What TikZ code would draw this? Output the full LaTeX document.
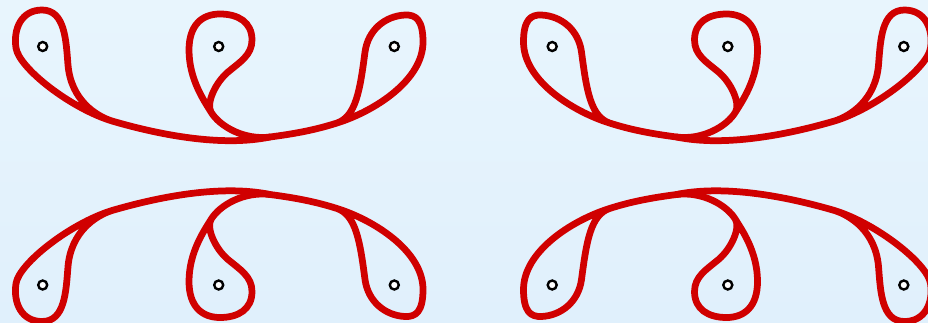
\documentclass[tikz,border=0pt]{standalone}
\usepackage{xcolor}
\usepackage{tikz}

\definecolor{bgtop}{RGB}{232,245,253}
\definecolor{bgbottom}{RGB}{224,240,252}
\definecolor{loopred}{RGB}{208,0,0}

\tikzset{
  lasso/.pic={
    % left petal, lower arc, right petal
    \draw[strand] (112,121) .. controls (96,116) and (71,100) .. (68,65)
      .. controls (66,40) and (65,10) .. (42,10)
      .. controls (22,10) and (13,28) .. (16,48)
      .. controls (19,68) and (70,108) .. (112,121)
      .. controls (160,135) and (222,147) .. (270,137)
      .. controls (295,133.7) and (315,130) .. (337,123)
      .. controls (375,111) and (423,80) .. (423,42)
      .. controls (423,20) and (416,14.5) .. (405,15)
      .. controls (385,16) and (368,30) .. (365,52)
      .. controls (360,90) and (356,116.5) .. (337,123);
    % middle petal
    \draw[strand] (270,137) .. controls (245,140.3) and (220,127) .. (211,112)
      .. controls (205,102) and (189,80) .. (189,50)
      .. controls (189,25) and (202,14) .. (220,14)
      .. controls (238,14) and (252,22) .. (252,40)
      .. controls (252,55) and (240,62) .. (228,72)
      .. controls (215,83) and (206,103.7) .. (211,112);
    \node[puncture] (-p1) at (42.7,46.5) {};
    \node[puncture] (-p2) at (218.7,46.5) {};
    \node[puncture] (-p3) at (394.3,46.5) {};
  }
}

\begin{document}
\begin{tikzpicture}[
  x={(0.02cm,0)}, y={(0,-0.02cm)},
  strand/.style={draw=loopred, line width=0.135cm, line cap=round, line join=round},
  puncture/.style={circle, draw=black, fill=white, line width=0.048cm, inner sep=0pt, minimum size=0.18cm},
]
  \useasboundingbox (0,0) rectangle (928,322);
  \shade[top color=bgtop, bottom color=bgbottom] (0,0) rectangle (928,322);
  \clip (0,0) rectangle (928,322);

  \pic (tl) at (0,0) {lasso};
  \pic[xscale=-1] (tr) at (946.5,0) {lasso};
  \pic[yscale=-1] (bl) at (0,331.5) {lasso};
  \pic[xscale=-1, yscale=-1] (br) at (946.5,331.5) {lasso};
\end{tikzpicture}
\end{document}
